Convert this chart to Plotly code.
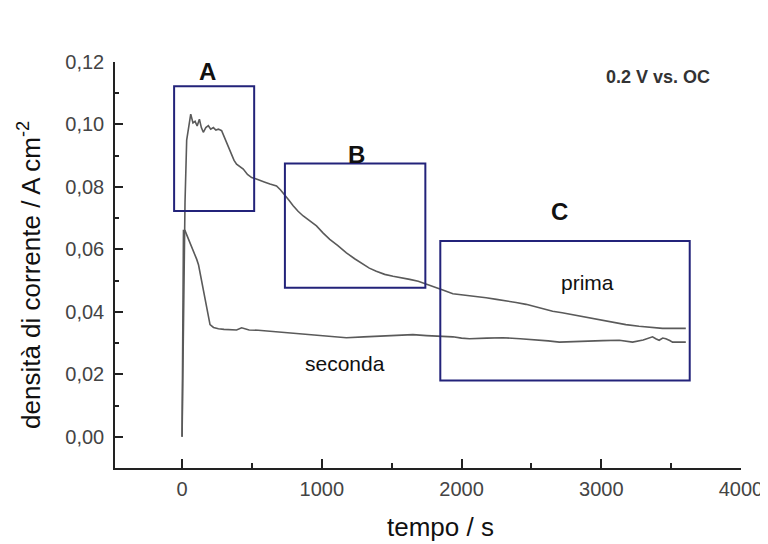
import plotly.graph_objects as go

# ---- data ----
prima_t = [0, 8, 15, 21, 33, 45, 62, 78, 93, 108, 124, 138, 152, 170, 188, 205, 224, 242, 260, 283,
           300, 319, 337, 355, 372, 390, 414, 438, 468, 498, 527, 557, 593, 629, 676, 705, 736, 765,
           795, 830, 867, 915, 962, 1010, 1057, 1115, 1176, 1235, 1295, 1340, 1390, 1450, 1510, 1570,
           1629, 1690, 1748, 1805, 1866, 1938, 2000, 2057, 2120, 2176, 2250, 2319, 2390, 2462, 2550,
           2652, 2720, 2795, 2890, 2986, 3080, 3176, 3270, 3367, 3438, 3520, 3605]
prima_v = [0.000, 0.030, 0.060, 0.075, 0.095, 0.099, 0.1033, 0.1005, 0.1010, 0.0995, 0.1017, 0.0990,
           0.0975, 0.0990, 0.0996, 0.0985, 0.0990, 0.0982, 0.0985, 0.0980, 0.0962, 0.0942, 0.0922,
           0.0905, 0.0885, 0.0873, 0.0865, 0.0857, 0.0840, 0.0830, 0.0826, 0.0820, 0.0815, 0.0809,
           0.0803, 0.0790, 0.0771, 0.0757, 0.0740, 0.0722, 0.0707, 0.0690, 0.0675, 0.0652, 0.0632,
           0.0612, 0.0589, 0.0570, 0.0552, 0.0540, 0.0530, 0.0520, 0.0514, 0.0510, 0.0504, 0.0498,
           0.0488, 0.0480, 0.0470, 0.0458, 0.0455, 0.0452, 0.0450, 0.0445, 0.0440, 0.0434, 0.0430,
           0.0424, 0.0414, 0.0402, 0.0397, 0.0391, 0.0383, 0.0375, 0.0367, 0.0359, 0.0354, 0.0349,
           0.0347, 0.0347, 0.0347]

seconda_t = [0, 5, 10, 21, 40, 57, 80, 105, 118, 129, 140, 152, 165, 176, 188, 200, 225, 260, 300,
             355, 390, 426, 480, 545, 600, 664, 700, 783, 860, 938, 1050, 1176, 1300, 1414, 1530,
             1652, 1750, 1843, 1938, 2000, 2057, 2180, 2295, 2420, 2533, 2620, 2700, 2800, 2891,
             3010, 3129, 3180, 3224, 3300, 3367, 3390, 3414, 3440, 3462, 3490, 3510, 3560, 3605]
seconda_v = [0.000, 0.030, 0.0660, 0.0660, 0.0640, 0.0621, 0.0600, 0.0568, 0.0550, 0.0525, 0.0495,
             0.0461, 0.0432, 0.0408, 0.0380, 0.0359, 0.0350, 0.0346, 0.0344, 0.0343, 0.0342, 0.0349,
             0.0342, 0.0341, 0.0339, 0.0338, 0.0336, 0.0333, 0.0330, 0.0327, 0.0322, 0.0317, 0.0320,
             0.0322, 0.0325, 0.0327, 0.0324, 0.0322, 0.0320, 0.0316, 0.0314, 0.0316, 0.0317, 0.0314,
             0.0311, 0.0307, 0.0303, 0.0305, 0.0306, 0.0308, 0.0309, 0.0306, 0.0303, 0.0310, 0.0320,
             0.0314, 0.0309, 0.0316, 0.0314, 0.0308, 0.0303, 0.0303, 0.0303]

# highlight boxes
box_names = ["A", "B", "C"]
box_x0 = [-57, 736, 1848]
box_x1 = [516, 1741, 3633]
box_y0 = [0.0723, 0.0477, 0.0180]
box_y1 = [0.1122, 0.0875, 0.0627]
box_label_x = [179, 1246, 2700]
box_label_y = [0.1219, 0.0953, 0.0722]

curve_labels = ["prima", "seconda"]
curve_label_x = [2900, 1164]
curve_label_y = [0.0494, 0.0234]

x_ticks = [0, 1000, 2000, 3000, 4000]
y_ticks = [0.00, 0.02, 0.04, 0.06, 0.08, 0.10, 0.12]

y_lo, y_hi = -0.01, 0.12

line_col = "#5a5a5a"
box_col = "#23237a"
font = "Liberation Sans, Arial, sans-serif"

fig = go.Figure()
fig.add_trace(go.Scatter(x=prima_t, y=prima_v, mode="lines",
                         line=dict(color=line_col, width=1.6), showlegend=False))
fig.add_trace(go.Scatter(x=seconda_t, y=seconda_v, mode="lines",
                         line=dict(color=line_col, width=1.6), showlegend=False))

for i in range(len(box_names)):
    fig.add_shape(type="rect", xref="x", yref="y",
                  x0=box_x0[i], x1=box_x1[i], y0=box_y0[i], y1=box_y1[i],
                  line=dict(color=box_col, width=2))
    fig.add_annotation(x=box_label_x[i], yref="paper",
                       y=(box_label_y[i] - y_lo) / (y_hi - y_lo),
                       text="<b>%s</b>" % box_names[i],
                       showarrow=False, font=dict(family=font, size=24, color="#111"))

for i in range(len(curve_labels)):
    fig.add_annotation(x=curve_label_x[i], y=curve_label_y[i], text=curve_labels[i],
                       showarrow=False, font=dict(family=font, size=21, color="#111"))

fig.add_annotation(x=3405, y=0.1152, text="<b>0.2 V vs. OC</b>", showarrow=False,
                   font=dict(family=font, size=18, color="#333"))

# axis titles (plot area is 626 x 406 px, starting at x=115, y=62 on the page)
fig.add_annotation(xref="paper", yref="paper", x=(440 - 115) / 626, y=-(527 - 468) / 406,
                   text="tempo / s", showarrow=False, xanchor="center", yanchor="middle",
                   font=dict(family=font, size=26, color="#111"))
fig.add_annotation(xref="paper", yref="paper", x=-(115 - 29) / 626, y=(468 - 275) / 406,
                   text="densità di corrente / A cm<sup>-2</sup>", showarrow=False, textangle=-90,
                   xanchor="center", yanchor="middle",
                   font=dict(family=font, size=26, color="#111"))

# page body has an 8px margin, so the figure is 8px smaller and margins shifted
fig.update_layout(
    width=760, height=536,
    margin=dict(l=107, r=27, t=54, b=76, autoexpand=False),
    paper_bgcolor="white", plot_bgcolor="white",
    separators=",.",
    xaxis=dict(range=[-480, 4000], tickvals=x_ticks, ticktext=[str(v) for v in x_ticks],
               showgrid=False, zeroline=False, showline=True, linecolor="#222", linewidth=1.5,
               ticks="inside", ticklen=9, tickwidth=1.5, tickcolor="#222",
               minor=dict(dtick=500, tick0=0, ticks="inside", ticklen=5, tickcolor="#222", tickwidth=1.5),
               tickfont=dict(family=font, size=20, color="#444"), ticklabelstandoff=2),
    yaxis=dict(range=[y_lo, y_hi], tickvals=y_ticks, tickformat=".2f",
               showgrid=False, zeroline=False, showline=True, linecolor="#222", linewidth=1.5,
               ticks="inside", ticklen=8, tickwidth=1.5, tickcolor="#222",
               minor=dict(dtick=0.01, tick0=0, ticks="inside", ticklen=4, tickcolor="#222", tickwidth=1.5),
               tickfont=dict(family=font, size=20, color="#444"), ticklabelstandoff=5),
)

fig.write_html("out.html")
